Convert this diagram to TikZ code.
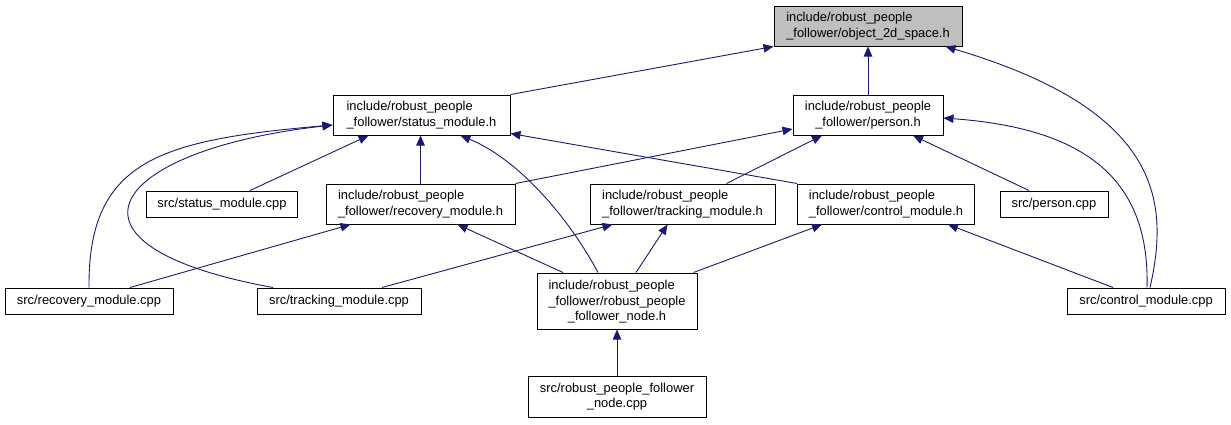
\documentclass[tikz,border=0pt]{standalone}
\usepackage{fontspec}
\setmainfont{Liberation Sans}
\usetikzlibrary{arrows.meta,calc}
\definecolor{edgeblue}{RGB}{25,25,112}
\definecolor{hlgray}{RGB}{191,191,191}
\begin{document}
\begin{tikzpicture}[x=1pt,y=-1pt,
  filebox/.style={draw=black,line width=1pt,fill=white,align=center,inner xsep=3pt,inner ysep=0pt,
    font=\fontsize{12.9}{15.5}\selectfont},
  oneline/.style={filebox,minimum height=26pt},
  twoline/.style={filebox,minimum height=40pt},
  leftwo/.style={twoline,align=left},
  threeline/.style={filebox,minimum height=56pt},
  edge/.style={draw=edgeblue,line width=0.9pt,-{Triangle[length=10pt,width=8.5pt]}},
]
\useasboundingbox (0,0) rectangle (1231,424);

\node[leftwo,fill=hlgray,minimum width=188pt] (obj) at (868,26) {include/robust\_people\\\_follower/object\_2d\_space.h};
\node[leftwo,minimum width=177pt] (statush) at (421.5,115) {include/robust\_people\\\_follower/status\_module.h};
\node[twoline,minimum width=150pt] (personh) at (868,115) {include/robust\_people\\\_follower/person.h};
\node[oneline,minimum width=151pt] (statuscpp) at (222,204) {src/status\_module.cpp};
\node[leftwo,minimum width=189pt] (recoveryh) at (420.5,204) {include/robust\_people\\\_follower/recovery\_module.h};
\node[leftwo,minimum width=185pt] (trackingh) at (682.5,204) {include/robust\_people\\\_follower/tracking\_module.h};
\node[leftwo,minimum width=177pt] (controlh) at (886,204) {include/robust\_people\\\_follower/control\_module.h};
\node[oneline,minimum width=108pt] (personcpp) at (1054,204) {src/person.cpp};
\node[oneline,minimum width=168pt] (recoverycpp) at (89,301) {src/recovery\_module.cpp};
\node[oneline,minimum width=164pt] (trackingcpp) at (339,301) {src/tracking\_module.cpp};
\node[threeline,minimum width=160pt] (nodeh) at (617,301) {\begin{tabular}{@{}l@{}}include/robust\_people\\\_follower/robust\_people\end{tabular}\\\_follower\_node.h};
\node[oneline,minimum width=158pt] (controlcpp) at (1146,301) {src/control\_module.cpp};
\node[filebox,minimum height=41pt,minimum width=178pt] (nodecpp) at (617,396.5) {src/robust\_people\_follower\\\_node.cpp};

% edges to object_2d_space.h
\draw[edge] (statush.north east) -- (obj.south west);
\draw[edge] (personh.north) -- (obj.south);
\draw[edge] ($(controlcpp.north)+(4,0)$) .. controls (1170,200) and (1160,110) .. ($(obj.south east)+(-17,0)$);

% edges to status_module.h
\draw[edge] ($(statuscpp.north)+(28,0)$) -- ($(statush.south)+(-53,0)$);
\draw[edge] (recoveryh.north) -- (recoveryh.north |- statush.south);
\draw[edge] ($(nodeh.north)+(-19,0)$) .. controls (570,220) and (520,160) .. ($(statush.south)+(39,0)$);
\draw[edge] (controlh.north west) -- ($(statush.south east)+(0,-2)$);
\draw[edge] (recoverycpp.north) .. controls (88,160) and (160,140) .. ($(statush.west)+(0,10)$);
\draw[edge] ($(trackingcpp.north)+(-66,0)$) .. controls (40,245) and (110,150) .. ($(statush.west)+(0,10)$);

% edges to person.h
\draw[edge] (recoveryh.north east) -- ($(personh.west)+(0,14)$);
\draw[edge] ($(trackingh.north)+(44,0)$) -- ($(personh.south)+(-46,0)$);
\draw[edge] ($(personcpp.north)+(-25,0)$) -- ($(personh.south)+(45,0)$);
\draw[edge] ($(controlcpp.north)+(1,0)$) .. controls (1150,175) and (1080,128) .. ($(personh.east)+(0,3)$);

% edges to recovery_module.h
\draw[edge] ($(recoverycpp.north)+(41,0)$) -- ($(recoveryh.south)+(-70,0)$);
\draw[edge] ($(nodeh.north)+(-54,0)$) -- ($(recoveryh.south)+(37,0)$);

% edges to tracking_module.h
\draw[edge] ($(trackingcpp.north)+(43,0)$) -- ($(trackingh.south)+(-70,0)$);
\draw[edge] ($(nodeh.north)+(19,0)$) -- ($(trackingh.south)+(-15,0)$);

% edges to control_module.h
\draw[edge] ($(nodeh.north east)+(-4,0)$) -- ($(controlh.south)+(-64,0)$);
\draw[edge] ($(controlcpp.north)+(-33,0)$) -- ($(controlh.south)+(62,0)$);

% edge to robust_people_follower_node.h
\draw[edge] (nodecpp.north) -- (nodeh.south);
\end{tikzpicture}
\end{document}
